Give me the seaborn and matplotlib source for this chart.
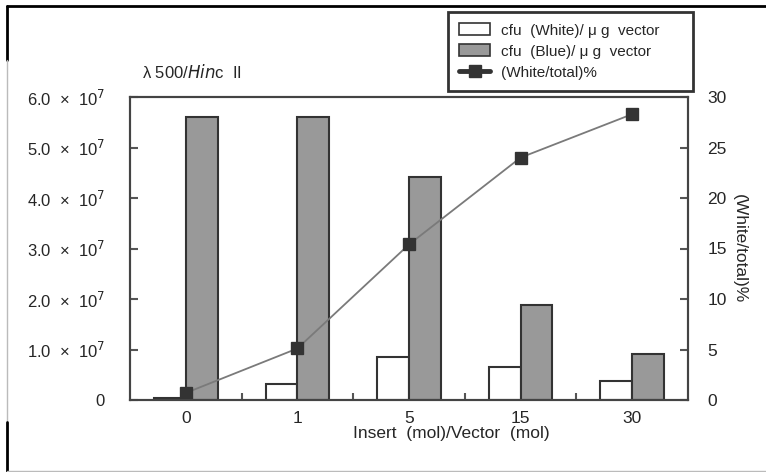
import pandas as pd
import matplotlib
matplotlib.use("Agg")
import matplotlib.pyplot as plt
from matplotlib.lines import Line2D
from matplotlib.patches import Patch
import seaborn as sns

# data
ratios = ["0", "1", "5", "15", "30"]
cfu_white = [0.03e7, 0.31e7, 0.85e7, 0.65e7, 0.37e7]
cfu_blue = [5.61e7, 5.61e7, 4.41e7, 1.89e7, 0.91e7]
white_pct = [0.7, 5.1, 15.4, 24.0, 28.3]
series_names = ["cfu  (White)/ μ g  vector", "cfu  (Blue)/ μ g  vector"]
line_name = "(White/total)%"
left_ticks = [0, 1e7, 2e7, 3e7, 4e7, 5e7, 6e7]
left_labels = ["0"] + [f"{v:.1f}  ×  10$^7$" for v in [1, 2, 3, 4, 5, 6]]
right_ticks = [0, 5, 10, 15, 20, 25, 30]

df = pd.DataFrame({
    "ratio": ratios * 2,
    "series": [series_names[0]] * 5 + [series_names[1]] * 5,
    "cfu": cfu_white + cfu_blue,
})

sns.set_style("white")
plt.rcParams["font.family"] = ["Liberation Sans", "DejaVu Sans"]

dark = "#333333"
fig = plt.figure(figsize=(7.66, 4.72), dpi=100)
ax = fig.add_axes([130 / 766, 1 - 400 / 472, 558 / 766, 303 / 472])

sns.barplot(data=df, x="ratio", y="cfu", hue="series", order=ratios,
            palette={series_names[0]: "white", series_names[1]: "#999999"},
            edgecolor=dark, linewidth=1.5, width=0.57, gap=0,
            legend=False, ax=ax)
ax.set_ylim(0, 6e7)
ax.set_xlim(-0.5, 4.5)

ax2 = ax.twinx()
sns.pointplot(x=ratios, y=white_pct, order=ratios, color="#7a7a7a",
              markers="s", markersize=8, linewidth=1.3, ax=ax2)
for ln in ax2.lines:
    ln.set_markerfacecolor(dark)
    ln.set_markeredgecolor(dark)
ax2.set_ylim(0, 30)
ax2.set_xlim(-0.5, 4.5)

# axes styling
for a in (ax, ax2):
    for sp in a.spines.values():
        sp.set_visible(True)
        sp.set_color("#444444")
        sp.set_linewidth(1.5)

ax.set_yticks(left_ticks)
ax.set_yticklabels(left_labels)
ax.tick_params(axis="y", direction="in", length=6, width=1.5, color="#555555",
               labelsize=12, pad=18)
ax.set_xticks(range(len(ratios)))
ax.set_xticklabels(ratios)
ax.set_xticks([0.5, 1.5, 2.5, 3.5], minor=True)
ax.tick_params(axis="x", which="major", length=0, labelsize=12.5, pad=8)
ax.tick_params(axis="x", which="minor", direction="in", length=5, width=1.5,
               color="#555555", bottom=True)
ax.set_xlabel("Insert  (mol)/Vector  (mol)", fontsize=12.5)
ax.xaxis.set_label_coords(0.575, -0.085)
ax.set_ylabel("")

ax2.set_yticks(right_ticks)
ax2.tick_params(axis="y", direction="in", length=6, width=1.5, color="#555555",
                labelsize=12.5, pad=14)
ax2.set_ylabel("(White/total)%", rotation=-90, fontsize=12.5, labelpad=14)

fig.text(142 / 766, 1 - 72 / 472, r"λ 500/$\it{Hin}$c  II", fontsize=12,
         va="center", ha="left")

handles = [
    Patch(facecolor="white", edgecolor=dark, linewidth=1.2),
    Patch(facecolor="#999999", edgecolor=dark, linewidth=1.2),
    Line2D([0], [0], color=dark, linewidth=3.5, marker="s", markersize=9),
]
leg = fig.legend(handles, series_names + [line_name], loc="upper left",
                 bbox_to_anchor=(448 / 766, 1 - 12 / 472, 245 / 766, 0),
                 mode="expand", fontsize=11, borderaxespad=0,
                 frameon=True, fancybox=False, edgecolor="black",
                 handlelength=2.0, handleheight=0.8, handletextpad=0.7,
                 labelspacing=0.45, borderpad=0.75)
leg.get_frame().set_linewidth(2)

# outer frame pieces of the original figure
fr = dict(transform=fig.transFigure, clip_on=False)
fig.add_artist(Line2D([7 / 766, 1], [1 - 6 / 472] * 2, color="black", lw=2, **fr))
fig.add_artist(Line2D([7 / 766] * 2, [1 - 6 / 472, 1 - 60 / 472], color="black", lw=2, **fr))
fig.add_artist(Line2D([7 / 766] * 2, [1 - 60 / 472, 1 - 422 / 472], color="#bbbbbb", lw=1, **fr))
fig.add_artist(Line2D([7 / 766] * 2, [1 - 422 / 472, 1 - 471 / 472], color="black", lw=2, **fr))
fig.add_artist(Line2D([7 / 766, 1], [1 - 470.5 / 472] * 2, color="#bbbbbb", lw=1, **fr))

fig.savefig("out.png", dpi=100)
